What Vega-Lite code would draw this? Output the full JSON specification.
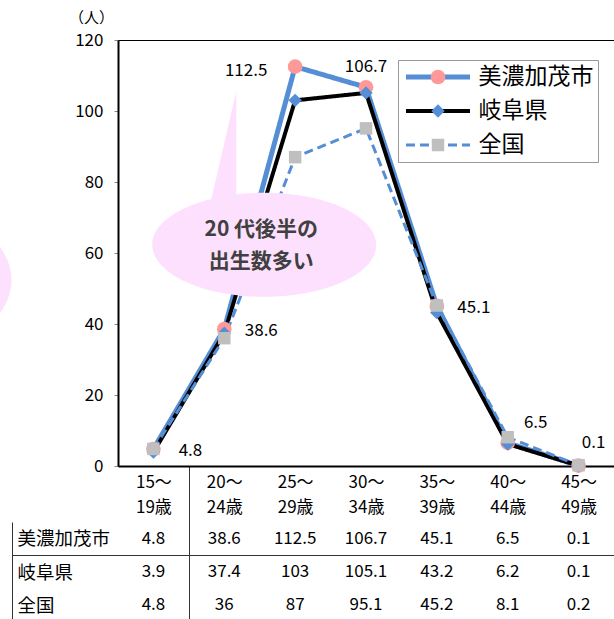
{
  "$schema": "https://vega.github.io/schema/vega-lite/v6.json",
  "autosize": "none",
  "width": 496,
  "height": 426,
  "padding": {"left": 118, "top": 40, "right": 0, "bottom": 153},
  "background": "white",
  "config": {
    "font": "Noto Sans CJK JP",
    "view": {"stroke": "#000", "strokeWidth": 1}
  },
  "datasets": {
    "births": [
      {"series": "美濃加茂市", "age": "15〜19歳", "value": 4.8},
      {"series": "美濃加茂市", "age": "20〜24歳", "value": 38.6},
      {"series": "美濃加茂市", "age": "25〜29歳", "value": 112.5},
      {"series": "美濃加茂市", "age": "30〜34歳", "value": 106.7},
      {"series": "美濃加茂市", "age": "35〜39歳", "value": 45.1},
      {"series": "美濃加茂市", "age": "40〜44歳", "value": 6.5},
      {"series": "美濃加茂市", "age": "45〜49歳", "value": 0.1},
      {"series": "岐阜県", "age": "15〜19歳", "value": 3.9},
      {"series": "岐阜県", "age": "20〜24歳", "value": 37.4},
      {"series": "岐阜県", "age": "25〜29歳", "value": 103},
      {"series": "岐阜県", "age": "30〜34歳", "value": 105.1},
      {"series": "岐阜県", "age": "35〜39歳", "value": 43.2},
      {"series": "岐阜県", "age": "40〜44歳", "value": 6.2},
      {"series": "岐阜県", "age": "45〜49歳", "value": 0.1},
      {"series": "全国", "age": "15〜19歳", "value": 4.8},
      {"series": "全国", "age": "20〜24歳", "value": 36},
      {"series": "全国", "age": "25〜29歳", "value": 87},
      {"series": "全国", "age": "30〜34歳", "value": 95.1},
      {"series": "全国", "age": "35〜39歳", "value": 45.2},
      {"series": "全国", "age": "40〜44歳", "value": 8.1},
      {"series": "全国", "age": "45〜49歳", "value": 0.2}
    ],
    "notes": [
      {"kind": "main", "age": "20〜24歳", "value": 62.3, "note": "20 代後半の\n出生数多い"},
      {"kind": "side", "age": "15〜19歳", "value": 52.4, "note": ""}
    ]
  },
  "layer": [
    {
      "layer": [
        {
          "data": {"name": "births"},
          "mark": {"type": "line"},
          "encoding": {
            "x": {
              "field": "age", "type": "nominal",
              "scale": {"type": "band", "domain": ["15〜19歳","20〜24歳","25〜29歳","30〜34歳","35〜39歳","40〜44歳","45〜49歳"], "paddingInner": 0, "paddingOuter": 0},
              "axis": {
                "title": null, "labelAngle": 0,
                "labelExpr": "[substring(datum.label, 0, 3), substring(datum.label, 3)]",
                "labelFontSize": 17, "labelColor": "#000", "labelLineHeight": 25,
                "labelPadding": -148,
                "domainColor": "#000", "domainWidth": 2,
                "tickBand": "extent", "tickSize": 156, "tickWidth": 1,
                "tickColor": {"condition": {"test": "datum.value === '15〜19歳'", "value": "#333"}, "value": "transparent"}
              }
            },
            "y": {
              "field": "value", "type": "quantitative",
              "scale": {"domain": [0, 120], "nice": false},
              "axis": {
                "title": "（人）", "titleAngle": 0, "titleX": -27, "titleY": -23,
                "titleAlign": "center", "titleBaseline": "middle",
                "titleFontSize": 15, "titleFontWeight": "normal", "titleColor": "#000",
                "values": [0, 20, 40, 60, 80, 100, 120],
                "grid": false,
                "domainColor": "#000", "domainWidth": 2,
                "tickColor": "#888", "tickSize": 4,
                "labelFontSize": 17, "labelColor": "#000", "labelPadding": 11
              }
            },
            "color": {
              "field": "series", "type": "nominal",
              "scale": {"domain": ["美濃加茂市", "岐阜県", "全国"], "range": ["#558ED5", "#000000", "#558ED5"]},
              "legend": {
                "title": null, "orient": "none", "legendX": 280, "legendY": 20,
                "direction": "vertical",
                "fillColor": "#ffffff", "strokeColor": "#999999",
                "padding": 4, "clipHeight": 26, "rowPadding": 8,
                "symbolType": "stroke", "symbolSize": 4096, "symbolOffset": 1.5,
                "labelOffset": 6, "labelFontSize": 23, "labelColor": "#000", "labelLimit": 300
              }
            },
            "strokeWidth": {
              "field": "series", "type": "nominal",
              "scale": {"type": "ordinal", "domain": ["美濃加茂市", "岐阜県", "全国"], "range": [5, 4, 3]}
            },
            "strokeDash": {
              "field": "series", "type": "nominal",
              "scale": {"domain": ["美濃加茂市", "岐阜県", "全国"], "range": [[1, 0], [1, 0], [9, 5]]}
            }
          }
        },
        {
          "data": {"name": "births"},
          "mark": {"type": "point", "filled": true, "opacity": 1, "strokeWidth": 0},
          "encoding": {
            "x": {"field": "age", "type": "nominal"},
            "y": {"field": "value", "type": "quantitative"},
            "fill": {
              "field": "series", "type": "nominal", "sort": "descending",
              "scale": {"range": ["#FF9999", "#558ED5", "#BFBFBF"]},
              "legend": {
                "title": null, "orient": "none", "legendX": 280, "legendY": 20,
                "direction": "vertical",
                "padding": 4, "clipHeight": 26, "rowPadding": 8,
                "symbolOffset": 24.5, "symbolStrokeWidth": 0, "symbolOpacity": 1,
                "labelOffset": 6, "labelFontSize": 23, "labelExpr": "''", "labelLimit": 300
              }
            },
            "shape": {
              "field": "series", "type": "nominal", "sort": "descending",
              "scale": {"range": ["circle", "diamond", "square"]}
            },
            "size": {
              "field": "series", "type": "nominal", "sort": "descending",
              "scale": {"type": "ordinal", "range": [215, 180, 156]}
            }
          }
        },
        {
          "data": {"name": "notes"},
          "transform": [{"filter": "datum.kind === 'main'"}],
          "mark": {
            "type": "point", "filled": true, "opacity": 1, "strokeWidth": 0,
            "fill": "#FDE0FD", "size": 50176, "xOffset": 40,
            "shape": "M-1,0A1,0.464 0 1,1 1,0A1,0.464 0 1,1 -1,0ZM-0.48,-0.38L-0.25,-1.366L-0.25,-0.42Z"
          },
          "encoding": {
            "x": {"field": "age", "type": "nominal"},
            "y": {"field": "value", "type": "quantitative"}
          }
        },
        {
          "data": {"name": "notes"},
          "transform": [{"filter": "datum.kind === 'side'"}],
          "mark": {
            "type": "point", "filled": true, "opacity": 1, "strokeWidth": 0,
            "fill": "#FDE0FD", "size": 50176, "xOffset": -254,
            "shape": "M-1,0A1,0.67 0 1,1 1,0A1,0.67 0 1,1 -1,0Z"
          },
          "encoding": {
            "x": {"field": "age", "type": "nominal"},
            "y": {"field": "value", "type": "quantitative"}
          }
        },
        {
          "data": {"name": "notes"},
          "transform": [{"filter": "datum.kind === 'main'"}],
          "mark": {
            "type": "text", "dx": 37, "dy": -15, "fontSize": 21, "fontWeight": "bold",
            "color": "#404040", "lineBreak": "\n", "lineHeight": 32,
            "align": "center", "baseline": "middle"
          },
          "encoding": {
            "x": {"field": "age", "type": "nominal"},
            "y": {"field": "value", "type": "quantitative"},
            "text": {"field": "note", "type": "nominal"}
          }
        },
        {
          "data": {"name": "births"},
          "transform": [{"filter": "datum.series === '美濃加茂市' && (datum.age === '15〜19歳' || datum.age === '20〜24歳' || datum.age === '35〜39歳')"}],
          "mark": {"type": "text", "dx": 37, "dy": 2, "fontSize": 17, "color": "#000", "align": "center", "baseline": "middle"},
          "encoding": {
            "x": {"field": "age", "type": "nominal"},
            "y": {"field": "value", "type": "quantitative"},
            "text": {"field": "value", "type": "nominal"}
          }
        },
        {
          "data": {"name": "births"},
          "transform": [{"filter": "datum.series === '美濃加茂市' && datum.age === '25〜29歳'"}],
          "mark": {"type": "text", "dx": -49, "dy": 4, "fontSize": 17, "color": "#000", "align": "center", "baseline": "middle"},
          "encoding": {
            "x": {"field": "age", "type": "nominal"},
            "y": {"field": "value", "type": "quantitative"},
            "text": {"field": "value", "type": "nominal"}
          }
        },
        {
          "data": {"name": "births"},
          "transform": [{"filter": "datum.series === '美濃加茂市' && datum.age === '30〜34歳'"}],
          "mark": {"type": "text", "dx": 0, "dy": -20, "fontSize": 17, "color": "#000", "align": "center", "baseline": "middle"},
          "encoding": {
            "x": {"field": "age", "type": "nominal"},
            "y": {"field": "value", "type": "quantitative"},
            "text": {"field": "value", "type": "nominal"}
          }
        },
        {
          "data": {"name": "births"},
          "transform": [{"filter": "datum.series === '美濃加茂市' && datum.age === '40〜44歳'"}],
          "mark": {"type": "text", "dx": 28, "dy": -20, "fontSize": 17, "color": "#000", "align": "center", "baseline": "middle"},
          "encoding": {
            "x": {"field": "age", "type": "nominal"},
            "y": {"field": "value", "type": "quantitative"},
            "text": {"field": "value", "type": "nominal"}
          }
        },
        {
          "data": {"name": "births"},
          "transform": [{"filter": "datum.series === '美濃加茂市' && datum.age === '45〜49歳'"}],
          "mark": {"type": "text", "dx": 15, "dy": -23, "fontSize": 17, "color": "#000", "align": "center", "baseline": "middle"},
          "encoding": {
            "x": {"field": "age", "type": "nominal"},
            "y": {"field": "value", "type": "quantitative"},
            "text": {"field": "value", "type": "nominal"}
          }
        }
      ]
    },
    {
      "data": {"name": "births"},
      "mark": {"type": "text", "fontSize": 17, "color": "#000", "align": "center", "baseline": "middle"},
      "encoding": {
        "x": {
          "field": "age", "type": "nominal",
          "scale": {"type": "band", "domain": ["15〜19歳","20〜24歳","25〜29歳","30〜34歳","35〜39歳","40〜44歳","45〜49歳"], "paddingInner": 0, "paddingOuter": 0},
          "axis": null
        },
        "y": {
          "field": "series", "type": "nominal",
          "scale": {"type": "band", "domain": ["美濃加茂市", "岐阜県", "全国"], "range": [482, 582], "paddingInner": 0, "paddingOuter": 0},
          "axis": {
            "title": null, "orient": "left", "offset": 106,
            "domainColor": "#333", "domainWidth": 1,
            "ticks": true, "tickBand": "extent", "tickSize": -602, "tickWidth": 1,
            "tickColor": {"condition": {"test": "datum.value === '美濃加茂市'", "value": "#333"}, "value": "transparent"},
            "labelAlign": "left", "labelPadding": 597,
            "labelFontSize": 18.5, "labelColor": "#000", "labelLimit": 200
          }
        },
        "text": {"field": "value", "type": "nominal"}
      }
    }
  ],
  "resolve": {"scale": {"x": "independent", "y": "independent"}}
}
